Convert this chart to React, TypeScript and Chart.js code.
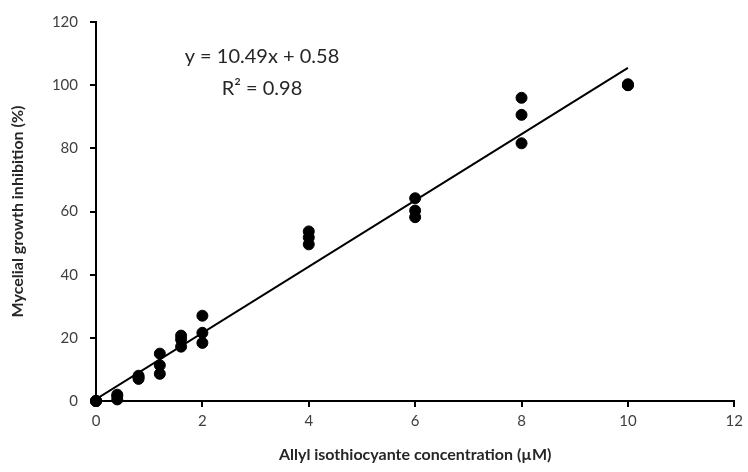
import React, { useEffect, useRef } from "react";
import { Chart, registerables } from "chart.js";

Chart.register(...registerables);

const concentrations = [0, 0, 0, 0.4, 0.4, 0.4, 0.8, 0.8, 0.8, 1.2, 1.2, 1.2, 1.6, 1.6, 1.6, 2, 2, 2, 4, 4, 4, 6, 6, 6, 8, 8, 8, 10, 10, 10];
const inhibition = [0, 0, 0, 0.5, 1.5, 2, 7, 7.5, 8, 15, 11.3, 8.6, 20.7, 19.5, 17.2, 27, 21.6, 18.4, 53.7, 51.8, 49.6, 64.2, 60.3, 58.2, 96, 90.6, 81.6, 100, 100.3, 100];
const slope = 10.49;
const intercept = 0.58;
const trendX = [0, 10];
const equationLines = ["y = 10.49x + 0.58", "R² = 0.98"];
const xTicks = [0, 2, 4, 6, 8, 10, 12];
const yTicks = [0, 20, 40, 60, 80, 100, 120];

const FONT = "Lato, 'Open Sans', sans-serif";

export default function App() {
  const ref = useRef<HTMLCanvasElement | null>(null);
  useEffect(() => {
    if (!ref.current) return;
    const eqPlugin = {
      id: "eqText",
      afterDatasetsDraw(chart: any) {
        const { ctx, scales } = chart;
        const x = scales.x.getPixelForValue(3.12);
        ctx.save();
        ctx.fillStyle = "#262626";
        ctx.font = `20px ${FONT}`;
        ctx.textAlign = "center";
        ctx.textBaseline = "middle";
        ctx.fillText(equationLines[0], x, scales.y.getPixelForValue(109.2));
        ctx.fillText(equationLines[1], x, scales.y.getPixelForValue(99));
        ctx.restore();
      },
    };
    const chart = new Chart(ref.current, {
      type: "scatter",
      data: {
        datasets: [
          {
            type: "line",
            data: trendX.map((x) => ({ x, y: slope * x + intercept })),
            borderColor: "#000000",
            borderWidth: 2,
            pointRadius: 0,
            fill: false,
          } as any,
          {
            data: concentrations.map((x, i) => ({ x, y: inhibition[i] })),
            backgroundColor: "#000000",
            borderColor: "#000000",
            pointRadius: 5.5,
            clip: false,
          } as any,
        ],
      },
      options: {
        animation: false,
        responsive: false,
        layout: { padding: { left: 0, right: 11, top: 22, bottom: 0 } },
        plugins: { legend: { display: false }, tooltip: { enabled: false } },
        scales: {
          x: {
            type: "linear",
            min: 0,
            max: 12,
            afterBuildTicks: (s: any) => { s.ticks = xTicks.map((v) => ({ value: v })); },
            afterFit: (s: any) => { s.height = 71; },
            grid: { display: true, drawOnChartArea: false, drawTicks: true, tickLength: 6, color: "#000000", lineWidth: 2 },
            border: { color: "#000000", width: 2 },
            ticks: { color: "#404040", font: { family: FONT, size: 15 }, padding: 5, maxRotation: 0 },
            title: { display: true, text: "Allyl isothiocyante concentration (µM)", color: "#262626", font: { family: FONT, size: 16, weight: "bold" }, padding: { top: 4, bottom: 8 } },
          },
          y: {
            type: "linear",
            min: 0,
            max: 120,
            afterBuildTicks: (s: any) => { s.ticks = yTicks.map((v) => ({ value: v })); },
            afterFit: (s: any) => { s.width = 96; },
            grid: { display: true, drawOnChartArea: false, drawTicks: true, tickLength: 6, color: "#000000", lineWidth: 2 },
            border: { color: "#000000", width: 2 },
            ticks: { color: "#404040", font: { family: FONT, size: 15 }, padding: 12 },
            title: { display: true, text: "Mycelial growth inhibition (%)", color: "#262626", font: { family: FONT, size: 16, weight: "bold" }, padding: { top: 8, bottom: 4 } },
          },
        },
      },
      plugins: [eqPlugin],
    });
    return () => chart.destroy();
  }, []);
  return (
    <div style={{ position: "absolute", left: 0, top: 0, width: 748, height: 472, background: "#fff" }}>
      <canvas ref={ref} width={748} height={472} style={{ width: 748, height: 472 }} />
    </div>
  );
}
